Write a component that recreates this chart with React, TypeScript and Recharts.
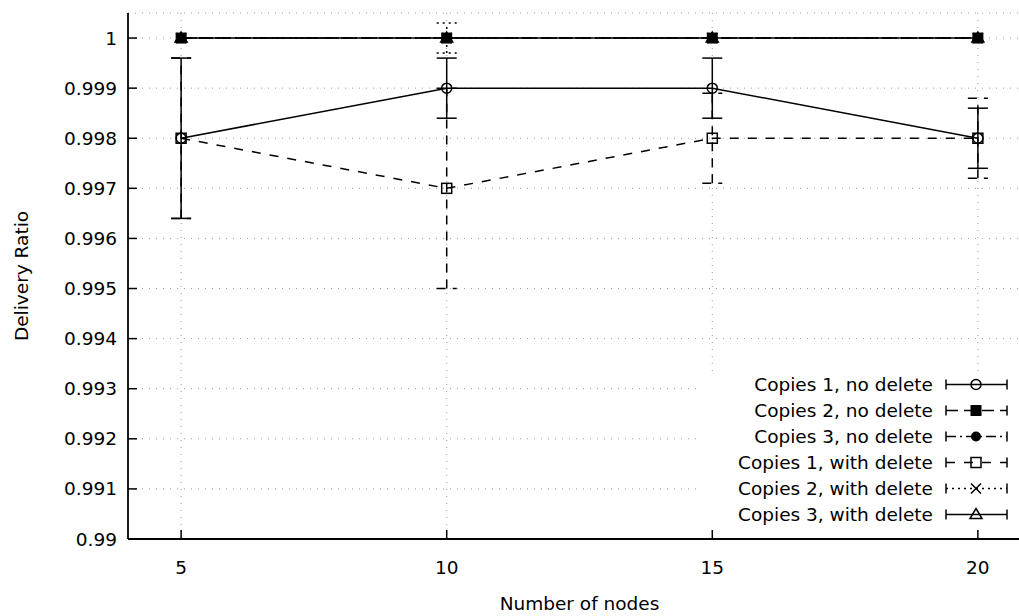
import { LineChart, Line, XAxis, YAxis, CartesianGrid, ErrorBar, Legend } from "recharts";

// number of nodes on the x axis
const nodes = [5, 10, 15, 20];

// delivery ratio per series, with the half-width of each error bar
const copies1NoDelete = [0.998, 0.999, 0.999, 0.998];
const copies1NoDeleteErr = [0.0016, 0.0006, 0.0006, 0.0006];
const copies2NoDelete = [1, 1, 1, 1];
const copies3NoDelete = [1, 1, 1, 1];
const copies1WithDelete = [0.998, 0.997, 0.998, 0.998];
const copies1WithDeleteErr = [0.0016, 0.002, 0.0009, 0.0008];
const copies2WithDelete = [1, 1, 1, 1];
const copies2WithDeleteErr = [0, 0.0003, 0, 0];
const copies3WithDelete = [1, 1, 1, 1];

const xTicks = [5, 10, 15, 20];
const yTicks = [0.99, 0.991, 0.992, 0.993, 0.994, 0.995, 0.996, 0.997, 0.998, 0.999, 1];

const seriesNames = [
  "Copies 1, no delete",
  "Copies 2, no delete",
  "Copies 3, no delete",
  "Copies 1, with delete",
  "Copies 2, with delete",
  "Copies 3, with delete",
];

const data = nodes.map((n, i) => ({
  nodes: n,
  c1nd: copies1NoDelete[i],
  c1ndErr: copies1NoDeleteErr[i],
  c2nd: copies2NoDelete[i],
  c3nd: copies3NoDelete[i],
  c1wd: copies1WithDelete[i],
  c1wdErr: copies1WithDeleteErr[i],
  c2wd: copies2WithDelete[i],
  c2wdErr: copies2WithDeleteErr[i],
  c3wd: copies3WithDelete[i],
}));

type Kind = "openCircle" | "filledSquare" | "filledCircle" | "openSquare" | "cross" | "triangle";

const styles: { key: string; dash?: string; marker: Kind }[] = [
  { key: "c1nd", marker: "openCircle" },
  { key: "c2nd", dash: "12 6", marker: "filledSquare" },
  { key: "c3nd", dash: "10 4 2 4", marker: "filledCircle" },
  { key: "c1wd", dash: "9 9", marker: "openSquare" },
  { key: "c2wd", dash: "2 4", marker: "cross" },
  { key: "c3wd", marker: "triangle" },
];

const INK = "#000";
const FONT = "DejaVu Sans";
const FS = 18.5;

function marker(kind: Kind, cx: number, cy: number, key?: any) {
  const s = { stroke: INK, strokeWidth: 1.5 };
  switch (kind) {
    case "openCircle":
      return <circle key={key} cx={cx} cy={cy} r={5} fill="none" {...s} />;
    case "filledSquare":
      return <rect key={key} x={cx - 5.5} y={cy - 5.5} width={11} height={11} fill={INK} />;
    case "filledCircle":
      return <circle key={key} cx={cx} cy={cy} r={5} fill={INK} />;
    case "openSquare":
      return <rect key={key} x={cx - 5} y={cy - 5} width={10} height={10} fill="none" {...s} />;
    case "cross":
      return (
        <path key={key} d={`M${cx - 5},${cy - 5}L${cx + 5},${cy + 5}M${cx - 5},${cy + 5}L${cx + 5},${cy - 5}`} fill="none" {...s} />
      );
    default:
      return <path key={key} d={`M${cx},${cy - 6}L${cx + 6},${cy + 4}L${cx - 6},${cy + 4}Z`} fill="none" {...s} />;
  }
}

const fmt = (v: number) => String(+v.toFixed(3));

function LegendBox() {
  return (
    <svg width={330} height={157} style={{ display: "block", background: "#fff" }}>
      {seriesNames.map((name, i) => {
        const y = 13.5 + i * 26;
        const st = styles[i];
        return (
          <g key={name}>
            <text x={233} y={y + 6.5} textAnchor="end" fontSize={FS} fill={INK} fontFamily={FONT}>
              {name}
            </text>
            <line x1={246} x2={307} y1={y} y2={y} stroke={INK} strokeWidth={1.5} strokeDasharray={st.dash} />
            <line x1={246} x2={246} y1={y - 5} y2={y + 5} stroke={INK} strokeWidth={1.5} />
            <line x1={307} x2={307} y1={y - 5} y2={y + 5} stroke={INK} strokeWidth={1.5} />
            {marker(st.marker, 276, y)}
          </g>
        );
      })}
    </svg>
  );
}

export default function App() {
  const axisLine = { stroke: INK, strokeWidth: 1.8 };
  const tickLine = { stroke: INK, strokeWidth: 1.5 };
  return (
    <div
      style={{
        position: "fixed",
        left: 0,
        top: 0,
        width: 1019,
        height: 616,
        overflow: "hidden",
        background: "#fff",
        fontFamily: FONT,
      }}
    >
      <LineChart width={1040} height={616} data={data} margin={{ top: 13, right: 9, bottom: 0, left: 0 }}>
        <CartesianGrid stroke="#9a9a9a" strokeDasharray="1 6" />
        <XAxis
          dataKey="nodes"
          type="number"
          domain={[4, 21]}
          ticks={xTicks}
          interval={0}
          height={77}
          tickSize={-9}
          tickMargin={31}
          axisLine={axisLine}
          tickLine={tickLine}
          tick={{ fill: INK, fontSize: FS }}
          label={{ value: "Number of nodes", position: "insideBottom", offset: 6, fill: INK, fontSize: FS }}
        />
        <XAxis
          xAxisId="top"
          orientation="top"
          dataKey="nodes"
          type="number"
          domain={[4, 21]}
          ticks={xTicks}
          interval={0}
          height={0}
          tickSize={-9}
          tick={false}
          axisLine={axisLine}
          tickLine={tickLine}
        />
        <YAxis
          type="number"
          domain={[0.99, 1.0005]}
          allowDataOverflow
          ticks={yTicks}
          interval={0}
          width={128}
          tickSize={-9}
          tickMargin={20}
          tickFormatter={fmt}
          axisLine={axisLine}
          tickLine={tickLine}
          tick={{ fill: INK, fontSize: FS }}
          label={{
            value: "Delivery Ratio",
            angle: -90,
            position: "insideLeft",
            offset: 21,
            fill: INK,
            fontSize: FS,
            style: { textAnchor: "middle" },
          }}
        />
        <Legend
          layout="vertical"
          align="center"
          verticalAlign="middle"
          wrapperStyle={{ left: 700, top: 371, width: 330, height: 157 }}
          content={() => <LegendBox />}
        />
        {styles.map((st, i) => (
          <Line
            key={st.key}
            name={seriesNames[i]}
            dataKey={st.key}
            type="linear"
            stroke={INK}
            strokeWidth={1.5}
            strokeDasharray={st.dash}
            isAnimationActive={false}
            dot={(p: any) => marker(st.marker, p.cx, p.cy, p.index)}
            activeDot={false}
          >
            {st.key === "c1nd" && (
              <ErrorBar dataKey="c1ndErr" width={10} stroke={INK} strokeWidth={1.5} isAnimationActive={false} />
            )}
            {st.key === "c1wd" && (
              <ErrorBar
                dataKey="c1wdErr"
                width={10}
                stroke={INK}
                strokeWidth={1.5}
                strokeDasharray="9 7"
                isAnimationActive={false}
              />
            )}
            {st.key === "c2wd" && (
              <ErrorBar
                dataKey="c2wdErr"
                width={10}
                stroke={INK}
                strokeWidth={1.5}
                strokeDasharray="2 4"
                isAnimationActive={false}
              />
            )}
          </Line>
        ))}
      </LineChart>
    </div>
  );
}
